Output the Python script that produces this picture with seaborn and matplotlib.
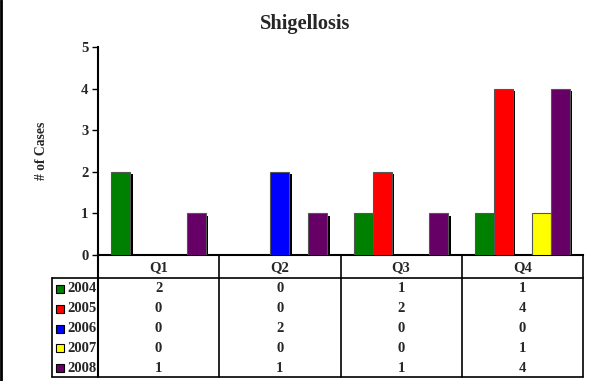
import numpy as np
import pandas as pd
import matplotlib
matplotlib.use("Agg")
import matplotlib.pyplot as plt
import matplotlib.transforms as mtransforms
from matplotlib.patches import Rectangle
from matplotlib.lines import Line2D
import seaborn as sns

# Shigellosis cases per quarter, by year
quarters = ["Q1", "Q2", "Q3", "Q4"]
years = ["2004", "2005", "2006", "2007", "2008"]
cases_2004 = [2, 0, 1, 1]
cases_2005 = [0, 0, 2, 4]
cases_2006 = [0, 2, 0, 0]
cases_2007 = [0, 0, 0, 1]
cases_2008 = [1, 1, 1, 4]
year_colors = ["#008000", "#FF0000", "#0000FF", "#FFFF00", "#660066"]

series = [cases_2004, cases_2005, cases_2006, cases_2007, cases_2008]
df = pd.DataFrame(
    [(q, y, v) for y, vals in zip(years, series) for q, v in zip(quarters, vals)],
    columns=["Quarter", "Year", "Cases"],
)

sns.set_style("white")
plt.rcParams["font.family"] = ["Liberation Serif", "DejaVu Serif"]
plt.rcParams["font.weight"] = "bold"

W, H = 589, 381
fig = plt.figure(figsize=(W / 100, H / 100), dpi=100)


def fx(px):
    return px / W


def fy(py):
    return 1 - py / H


FS = 10.5  # table and tick text size

# plot area in pixel coordinates
left, right, top, bottom = 98, 583, 47, 255
ax = fig.add_axes([fx(left), fy(bottom), fx(right - left), (bottom - top) / H])

sns.barplot(
    data=df, x="Quarter", y="Cases", hue="Year", order=quarters, hue_order=years,
    palette=year_colors, saturation=1, width=0.78, edgecolor="#555555", linewidth=0.8,
    legend=False, ax=ax, zorder=3,
)

# hide empty bars, give the others a dark offset shadow
shadow_tr = mtransforms.offset_copy(ax.transData, fig=fig, x=2.5, y=-2.5, units="dots")
for p in list(ax.patches):
    if p.get_height() <= 0:
        p.set_visible(False)
        continue
    sh = Rectangle((p.get_x(), 0), p.get_width(), p.get_height(), transform=shadow_tr,
                   facecolor="black", edgecolor="none", zorder=2)
    ax.add_patch(sh)

ax.set_ylim(0, 5)
ax.set_xlim(-0.5, 3.5)
ax.set_yticks(range(0, 6))
ax.set_xticks([])
ax.set_xlabel("")
ax.set_ylabel("# of Cases", fontsize=9.8, fontweight="bold", labelpad=24)
for s in ["top", "right"]:
    ax.spines[s].set_visible(False)
for s in ["left", "bottom"]:
    ax.spines[s].set_color("black")
    ax.spines[s].set_linewidth(1.5)
ax.tick_params(axis="y", direction="out", length=4, width=1, color="black",
               labelsize=FS, pad=3, left=True)
for t in ax.get_yticklabels():
    t.set_fontweight("bold")

fig.text(fx(305), fy(24), "Shigellosis", ha="center", va="center",
         fontsize=14.7, fontweight="bold")

# data table under the plot
hdr_top, hdr_bot, tbl_bot = 255, 278, 377
tbl_left = 52
col_w = (right - left) / len(quarters)
lw = 1.2


def hline(x0, x1, y, lw_=lw):
    fig.add_artist(Line2D([fx(x0), fx(x1)], [fy(y), fy(y)], color="black", lw=lw_))


def vline(x, y0, y1, lw_=lw):
    fig.add_artist(Line2D([fx(x), fx(x)], [fy(y0), fy(y1)], color="black", lw=lw_))


hline(tbl_left, right, hdr_bot)
hline(tbl_left, right, tbl_bot)
vline(tbl_left, hdr_bot, tbl_bot)
vline(left, hdr_top, tbl_bot, 1.5)
for i in range(1, len(quarters) + 1):
    vline(left + i * col_w, hdr_top, tbl_bot)

for i, q in enumerate(quarters):
    fig.text(fx(left + (i + 0.5) * col_w), fy((hdr_top + hdr_bot) / 2 + 1), q,
             ha="center", va="center", fontsize=FS, fontweight="bold")

row_h = (tbl_bot - hdr_bot) / len(years)
for r, (y, vals, c) in enumerate(zip(years, series, year_colors)):
    cy = hdr_bot + (r + 0.5) * row_h + 1
    sw = 8
    fig.add_artist(Rectangle((fx(56), fy(cy + sw / 2)), sw / W, sw / H,
                             facecolor=c, edgecolor="black", lw=0.8))
    fig.text(fx(67), fy(cy), y, ha="left", va="center", fontsize=FS, fontweight="bold")
    for i, v in enumerate(vals):
        fig.text(fx(left + (i + 0.5) * col_w), fy(cy), str(v),
                 ha="center", va="center", fontsize=FS, fontweight="bold")

# left border of the chart frame
fig.add_artist(Line2D([fx(1.3), fx(1.3)], [0, 1], color="black", lw=2))

fig.savefig("out.png", dpi=100, facecolor="white")
